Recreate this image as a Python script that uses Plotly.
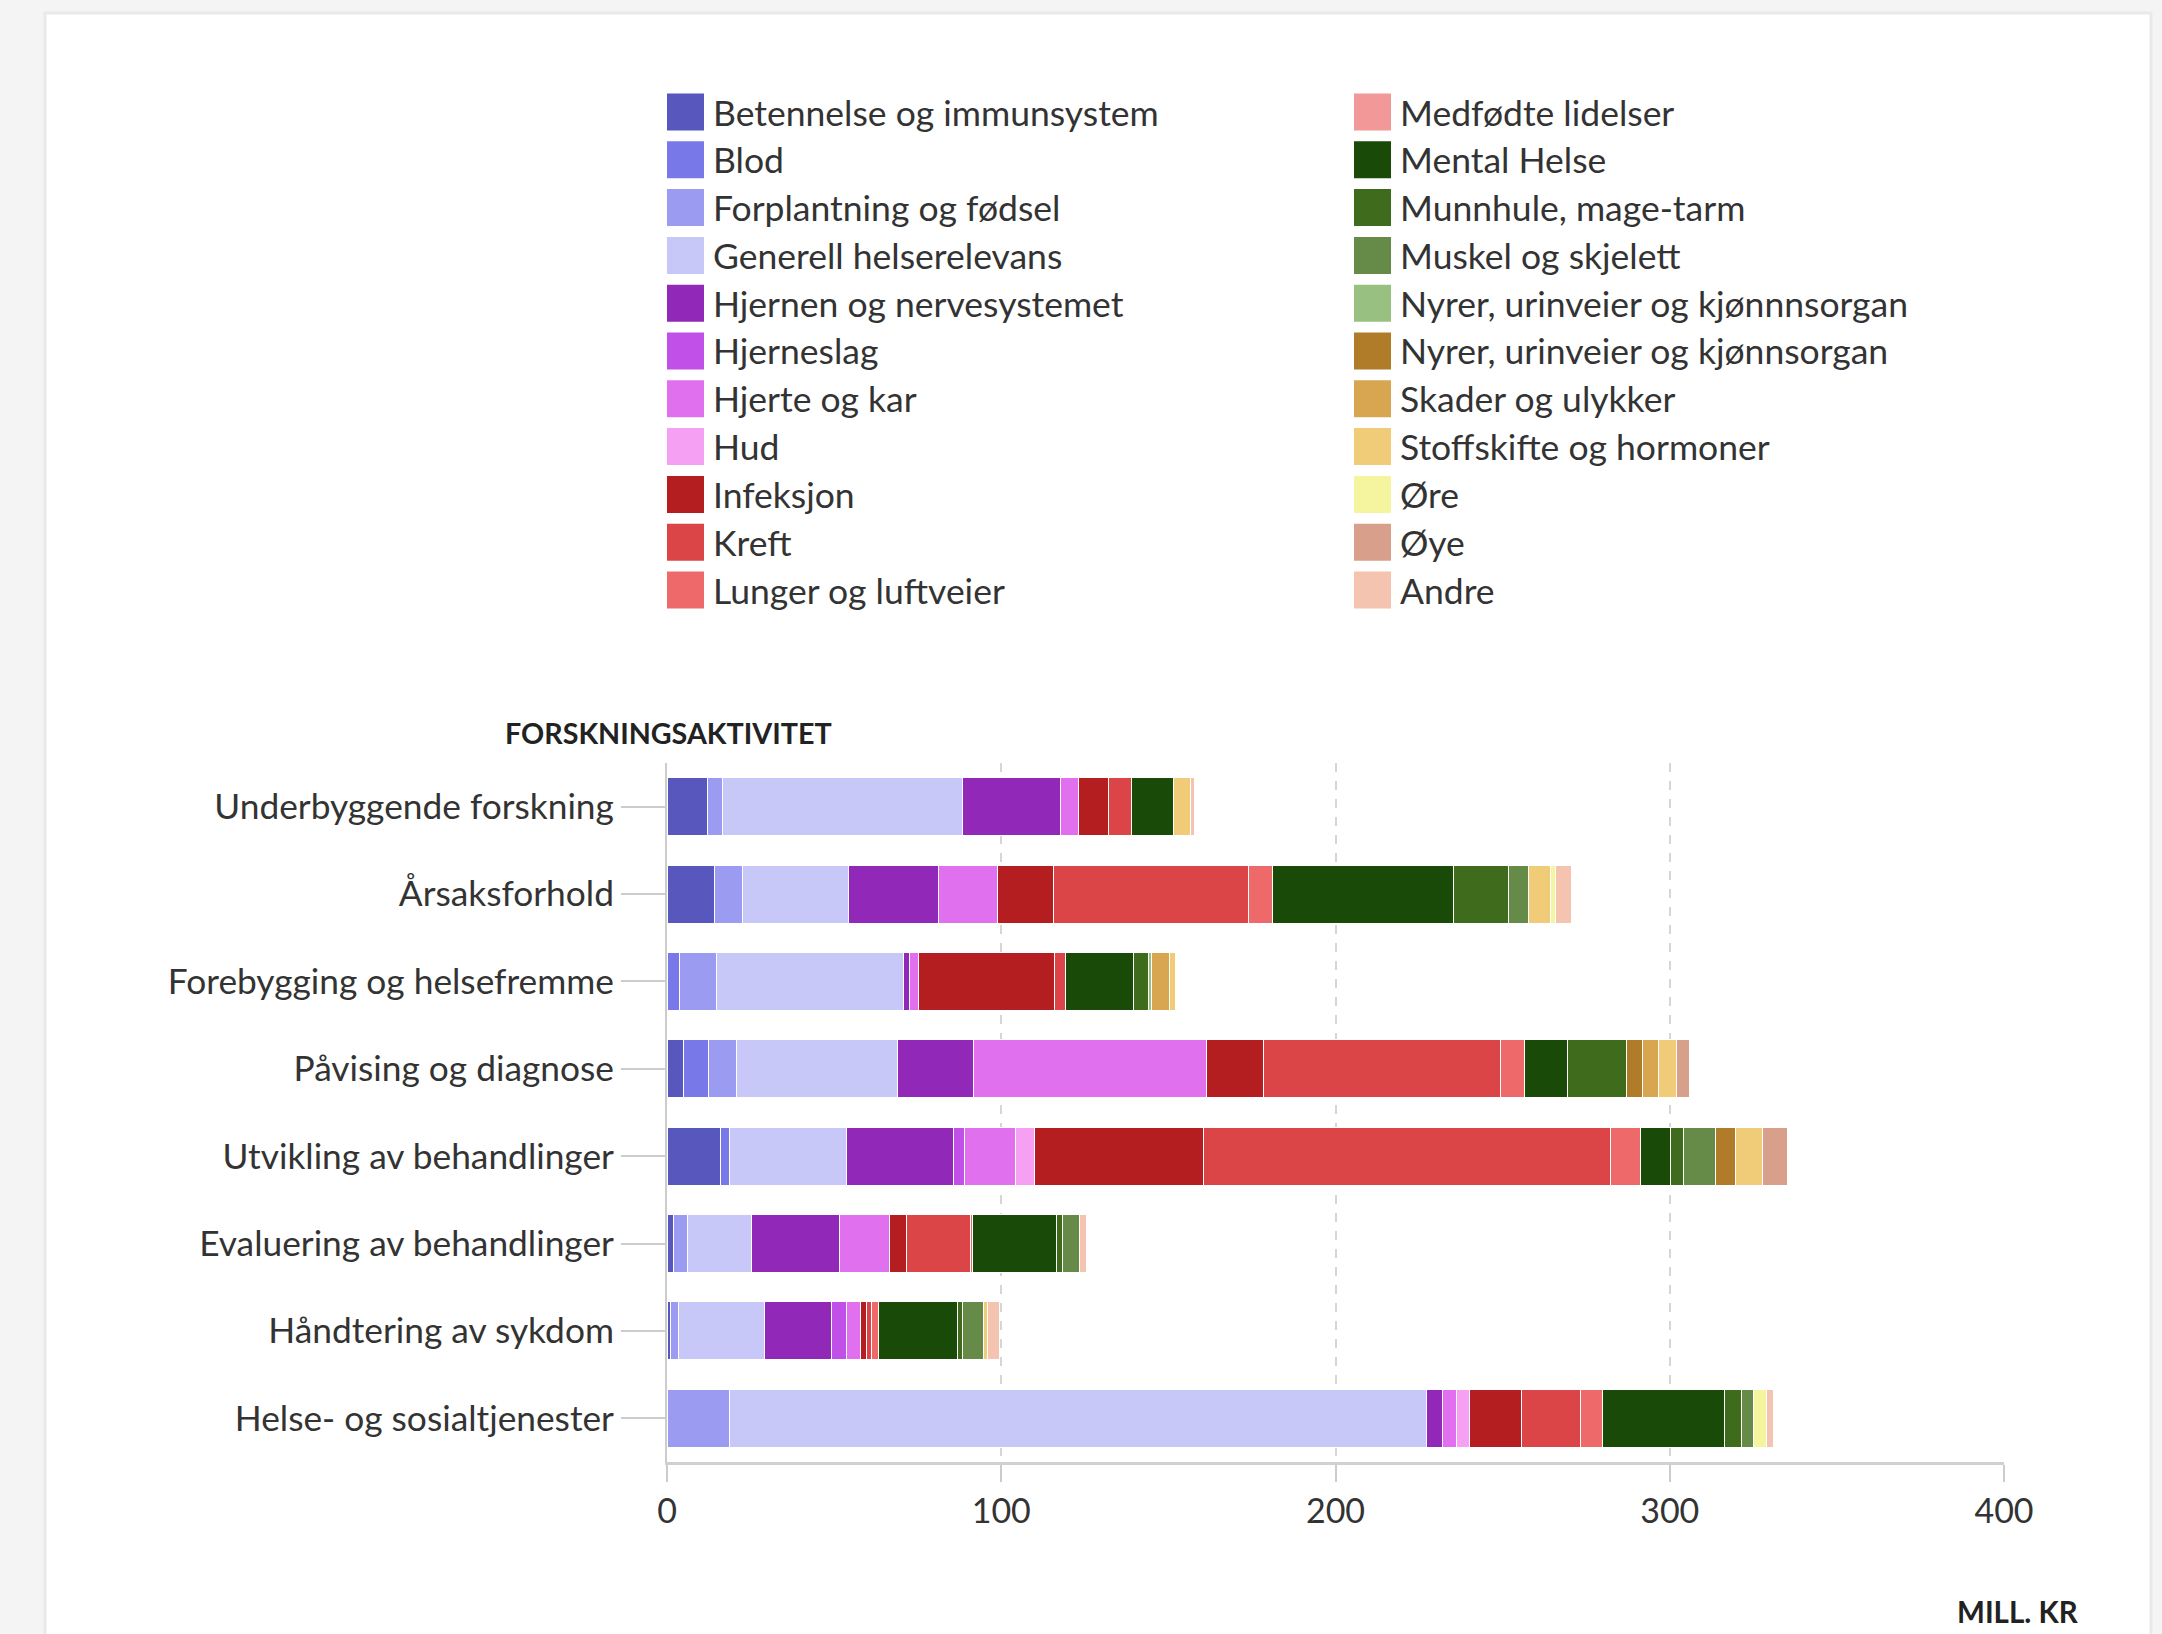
import plotly.graph_objects as go

# Research activity categories (top to bottom)
categories = [
    "Underbyggende forskning",
    "Årsaksforhold",
    "Forebygging og helsefremme",
    "Påvising og diagnose",
    "Utvikling av behandlinger",
    "Evaluering av behandlinger",
    "Håndtering av sykdom",
    "Helse- og sosialtjenester",
]

# Funding per health category (MILL. KR), one value per research activity
betennelse = [12.2, 14.2, 0, 4.9, 15.9, 1.9, 0.9, 0]
blod = [0, 0, 3.8, 7.5, 2.9, 0, 0, 0]
forplantning = [4.3, 8.4, 11.1, 8.5, 0, 4.1, 2.5, 18.6]
generell = [72.0, 31.8, 56.0, 48.2, 35.0, 19.4, 25.8, 208.5]
hjernen = [29.1, 26.8, 1.7, 22.5, 31.9, 26.1, 19.9, 4.8]
hjerneslag = [0, 0, 0, 0, 3.3, 0, 4.7, 0]
hjerte = [5.4, 17.8, 2.5, 69.8, 15.3, 15.2, 4.0, 4.4]
hud = [0, 0, 0, 0, 5.5, 0, 0, 3.9]
infeksjon = [9.2, 16.7, 40.8, 17.0, 50.7, 5.1, 1.8, 15.3]
kreft = [6.7, 58.3, 3.4, 70.9, 121.8, 19.0, 1.7, 17.9]
lunger = [0, 7.2, 0, 7.3, 8.9, 0.6, 2.0, 6.6]
medfodte = [0, 0, 0, 0, 0, 0, 0, 0]
mental = [12.6, 54.2, 20.2, 12.8, 8.9, 25.1, 23.5, 36.3]
munnhule = [0, 16.3, 4.6, 17.8, 4.0, 1.8, 1.5, 5.3]
muskel = [0, 6.1, 0, 0, 9.7, 5.2, 6.4, 3.5]
nyrer_a = [0, 0, 0.8, 0, 0, 0, 0, 0]
nyrer_b = [0, 0, 0, 4.5, 5.8, 0, 0, 0]
skader = [0, 0, 5.3, 4.9, 0, 0, 0, 0]
stoffskifte = [5.0, 6.5, 2.0, 5.5, 8.2, 0, 1.2, 0]
ore = [0, 1.6, 0, 0, 0, 0, 0, 3.7]
oye = [0, 0, 0, 3.8, 7.3, 0, 0, 0]
andre = [1.4, 4.8, 0, 0, 0, 1.9, 3.7, 2.2]

series_names = [
    "Betennelse og immunsystem", "Blod", "Forplantning og fødsel",
    "Generell helserelevans", "Hjernen og nervesystemet", "Hjerneslag",
    "Hjerte og kar", "Hud", "Infeksjon", "Kreft", "Lunger og luftveier",
    "Medfødte lidelser", "Mental Helse", "Munnhule, mage-tarm",
    "Muskel og skjelett", "Nyrer, urinveier og kjønnnsorgan",
    "Nyrer, urinveier og kjønnsorgan", "Skader og ulykker",
    "Stoffskifte og hormoner", "Øre", "Øye", "Andre",
]
series_values = [
    betennelse, blod, forplantning, generell, hjernen, hjerneslag, hjerte,
    hud, infeksjon, kreft, lunger, medfodte, mental, munnhule, muskel,
    nyrer_a, nyrer_b, skader, stoffskifte, ore, oye, andre,
]
series_colors = [
    "#5757be", "#7878e8", "#9b9bf2", "#c8c8f8", "#9228b8", "#c050e8",
    "#e070ee", "#f5a0f2", "#b41e20", "#dc4548", "#ee6a6a", "#f29898",
    "#1a4a08", "#3f6b1c", "#668a48", "#98c080", "#b07c2a", "#d8a550",
    "#f0cc78", "#f5f5a0", "#d8a08a", "#f5c4b0",
]

x_ticks = [0, 100, 200, 300, 400]

# Page geometry (pixels)
W, H = 2162, 1634
ML, MR, MT, MB = 667, 158, 763, 172
PW, PH = W - ML - MR, H - MT - MB


def px_x(px):
    return (px - ML) / PW


def px_y(py):
    return (H - MB - py) / PH


FONT = "Lato"
TEXT = "#333333"
LABEL_SIZE = 35.3

fig = go.Figure()
for name, vals, col in zip(series_names, series_values, series_colors):
    fig.add_trace(go.Bar(
        y=categories, x=vals, name=name, orientation="h",
        marker=dict(color=col, line=dict(color="white", width=1)),
    ))

shapes = [
    # white card behind the chart
    dict(type="rect", xref="paper", yref="paper", layer="below",
         x0=px_x(45), x1=px_x(2151), y0=px_y(H + 20), y1=px_y(13),
         fillcolor="white", line=dict(color="#e9e9e9", width=3)),
]
annotations = []

# two-column legend: swatch + label
row0, row_step = 112, 47.8
col_x = [667, 1354]
per_col = 11
for i, (name, col) in enumerate(zip(series_names, series_colors)):
    c, r = divmod(i, per_col)
    cy = row0 + r * row_step
    x0 = col_x[c]
    shapes.append(dict(type="rect", xref="paper", yref="paper",
                       x0=px_x(x0), x1=px_x(x0 + 37),
                       y0=px_y(cy + 18.5), y1=px_y(cy - 18.5),
                       fillcolor=col, line=dict(width=0)))
    annotations.append(dict(xref="paper", yref="paper", x=px_x(x0 + 44),
                            y=px_y(cy), text=name, showarrow=False,
                            xanchor="left", yanchor="middle",
                            font=dict(family=FONT, size=35.5, color=TEXT)))

annotations.append(dict(xref="paper", yref="paper", x=px_x(503), y=px_y(733),
                        text="<b>FORSKNINGSAKTIVITET</b>", showarrow=False,
                        xanchor="left", yanchor="middle",
                        font=dict(family=FONT, size=28.7, color="#222")))
annotations.append(dict(xref="paper", yref="paper", x=px_x(2081), y=px_y(1611),
                        text="<b>MILL. KR</b>", showarrow=False,
                        xanchor="right", yanchor="middle",
                        font=dict(family=FONT, size=29.5, color="#222")))

fig.update_layout(
    width=W, height=H,
    margin=dict(l=ML, r=MR, t=MT, b=MB, autoexpand=False),
    barmode="stack", bargap=0.336, showlegend=False,
    paper_bgcolor="#f4f4f4", plot_bgcolor="rgba(0,0,0,0)",
    font=dict(family=FONT, color=TEXT),
    shapes=shapes, annotations=annotations,
    xaxis=dict(
        range=[0, 400], tickvals=x_ticks, showgrid=True,
        gridcolor="#d6d6d6", griddash="dash", gridwidth=2,
        ticks="outside", ticklen=17, tickcolor="#cccccc", tickwidth=2,
        showline=True, linecolor="#d0d0d0", linewidth=3, zeroline=False,
        tickfont=dict(family=FONT, size=34, color=TEXT),
        ticklabelstandoff=0, fixedrange=True,
    ),
    yaxis=dict(
        type="category", categoryorder="array", categoryarray=categories,
        autorange="reversed", showgrid=False, zeroline=False,
        ticks="outside", ticklen=44, tickcolor="#cccccc", tickwidth=2,
        showline=True, linecolor="#cccccc", linewidth=2,
        tickfont=dict(family=FONT, size=LABEL_SIZE, color=TEXT),
        fixedrange=True,
    ),
)

fig.write_html("out.html")
